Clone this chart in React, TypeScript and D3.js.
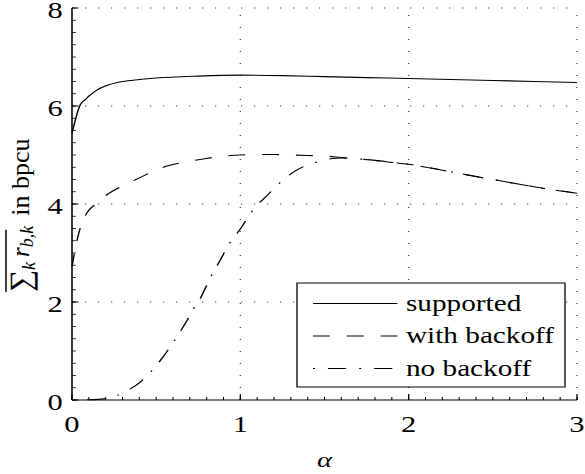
import { useEffect, useRef } from 'react';
import * as d3 from 'd3';

// values
const supportedAlpha = [0, 0.05, 0.075, 0.1, 0.15, 0.2, 0.3, 0.4, 0.5, 0.75, 1, 1.25, 1.5, 1.75, 2, 2.5, 3];
const supportedRate = [5.44, 6.03, 6.12, 6.2, 6.33, 6.41, 6.5, 6.54, 6.57, 6.61, 6.63, 6.62, 6.6, 6.58, 6.56, 6.52, 6.48];

const withBackoffAlpha = [0, 0.02, 0.04, 0.07, 0.1, 0.14, 0.2, 0.3, 0.38, 0.48, 0.57, 0.68, 0.78, 0.88, 1.0, 1.1, 1.2, 1.3, 1.4, 1.5, 1.6, 1.7, 1.8, 1.9, 2.0, 2.2, 2.4, 2.6, 2.8, 3.0];
const withBackoffRate = [2.72, 3.1, 3.4, 3.7, 3.87, 4.0, 4.17, 4.37, 4.5, 4.66, 4.78, 4.86, 4.92, 4.97, 5.0, 5.01, 5.01, 5.0, 4.99, 4.98, 4.95, 4.92, 4.89, 4.85, 4.81, 4.69, 4.56, 4.44, 4.32, 4.22];

const noBackoffAlpha = [0, 0.1, 0.2, 0.25, 0.32, 0.4, 0.45, 0.5, 0.56, 0.6, 0.64, 0.68, 0.72, 0.75, 0.83, 0.87, 0.95, 1.0, 1.04, 1.09, 1.14, 1.21, 1.26, 1.32, 1.4, 1.47, 1.55, 1.6, 1.7, 1.8, 1.9, 2.0, 2.2, 2.4, 2.6, 2.8, 3.0];
const noBackoffRate = [0, 0.005, 0.03, 0.07, 0.18, 0.35, 0.51, 0.7, 0.97, 1.17, 1.38, 1.6, 1.85, 2.0, 2.55, 2.79, 3.27, 3.49, 3.7, 3.95, 4.11, 4.35, 4.51, 4.66, 4.8, 4.87, 4.93, 4.94, 4.92, 4.89, 4.85, 4.81, 4.69, 4.56, 4.44, 4.32, 4.22];

const xTicks = [0, 1, 2, 3];
const yTicks = [0, 2, 4, 6, 8];
const legendLabels = ['supported', 'with backoff', 'no backoff'];

const WIDTH = 585;
const HEIGHT = 474;
const SX = 1.3; // the whole figure is stretched horizontally
const FONT = 'Liberation Serif, Times New Roman, serif';

const styles = [
  { dash: null, offset: 0 },
  { dash: '13,13', offset: 0 },
  { dash: '14,10,1.5,10', offset: 24 },
];

export default function App() {
  const svgRef = useRef<SVGSVGElement>(null);

  useEffect(() => {
    const svg = d3.select(svgRef.current);
    svg.selectAll('*').remove();

    const g = svg.append('g').attr('transform', `scale(${SX},1)`);

    const x = d3.scaleLinear().domain([0, 3]).range([72 / SX, 577 / SX]);
    const y = d3.scaleLinear().domain([0, 8]).range([400, 8]);

    // dotted grid
    xTicks.slice(1).forEach(t => {
      g.append('line')
        .attr('x1', x(t)).attr('x2', x(t))
        .attr('y1', y(0)).attr('y2', y(8))
        .attr('stroke', '#444').attr('stroke-width', 1)
        .attr('stroke-dasharray', '1,11');
    });
    yTicks.slice(1).forEach(t => {
      g.append('line')
        .attr('x1', x(0)).attr('x2', x(3))
        .attr('y1', y(t)).attr('y2', y(t))
        .attr('stroke', '#444').attr('stroke-width', 1)
        .attr('stroke-dasharray', '1,9');
    });

    // minor ticks
    d3.range(0, 3.0001, 0.1).forEach(t => {
      g.append('line')
        .attr('x1', x(t)).attr('x2', x(t))
        .attr('y1', y(0)).attr('y2', y(0) - 3)
        .attr('stroke', '#000').attr('stroke-width', 0.8);
    });
    d3.range(0, 8.0001, 0.25).forEach(t => {
      g.append('line')
        .attr('x1', x(0)).attr('x2', x(0) + 3)
        .attr('y1', y(t)).attr('y2', y(t))
        .attr('stroke', '#000').attr('stroke-width', 0.8);
    });

    // major ticks
    xTicks.forEach(t => {
      g.append('line')
        .attr('x1', x(t)).attr('x2', x(t))
        .attr('y1', y(0)).attr('y2', y(0) - 6)
        .attr('stroke', '#000').attr('stroke-width', 1);
    });
    yTicks.forEach(t => {
      g.append('line')
        .attr('x1', x(0)).attr('x2', x(0) + 5)
        .attr('y1', y(t)).attr('y2', y(t))
        .attr('stroke', '#000').attr('stroke-width', 1);
    });

    // curves
    const line = d3.line<[number, number]>()
      .x(d => x(d[0]))
      .y(d => y(d[1]))
      .curve(d3.curveMonotoneX);

    const series = [
      d3.zip(supportedAlpha, supportedRate),
      d3.zip(withBackoffAlpha, withBackoffRate),
      d3.zip(noBackoffAlpha, noBackoffRate),
    ];

    series.forEach((s, i) => {
      g.append('path')
        .attr('d', line(s as [number, number][]))
        .attr('fill', 'none')
        .attr('stroke', '#000')
        .attr('stroke-width', 1.1)
        .attr('stroke-dasharray', styles[i].dash)
        .attr('stroke-dashoffset', styles[i].offset);
    });

    // axes
    g.append('line')
      .attr('x1', x(0)).attr('x2', x(0))
      .attr('y1', y(0)).attr('y2', y(8))
      .attr('stroke', '#000').attr('stroke-width', 1.2);
    g.append('line')
      .attr('x1', x(0)).attr('x2', x(3))
      .attr('y1', y(0)).attr('y2', y(0))
      .attr('stroke', '#000').attr('stroke-width', 1.2);

    // tick labels
    g.selectAll('.xlab')
      .data(xTicks)
      .enter()
      .append('text')
      .attr('x', d => x(d))
      .attr('y', 432)
      .attr('text-anchor', 'middle')
      .style('font-family', FONT)
      .style('font-size', '23.5px')
      .text(d => d);

    g.selectAll('.ylab')
      .data(yTicks)
      .enter()
      .append('text')
      .attr('x', x(0) - 7)
      .attr('y', d => y(d) + 10)
      .attr('text-anchor', 'end')
      .style('font-family', FONT)
      .style('font-size', '23.5px')
      .text(d => d);

    // x label
    g.append('text')
      .attr('x', x(1.5))
      .attr('y', 467)
      .attr('text-anchor', 'middle')
      .style('font-family', FONT)
      .style('font-style', 'italic')
      .style('font-size', '22px')
      .text('α');

    // y label (not stretched)
    const yl = svg.append('g')
      .attr('transform', 'translate(29,292) rotate(-90)');
    const part1 = yl.append('text')
      .attr('x', 0).attr('y', 0)
      .style('font-family', FONT)
      .style('font-size', '25px');
    part1.append('tspan').style('font-size', '31px').attr('dy', 2).text('∑');
    part1.append('tspan').style('font-style', 'italic').style('font-size', '18px').attr('dy', 4).text('k');
    part1.append('tspan').style('font-style', 'italic').attr('dx', 5).attr('dy', -6).text('r');
    part1.append('tspan').style('font-style', 'italic').style('font-size', '18px').attr('dy', 4).text('b,k');
    const w = (part1.node() as SVGTextElement).getComputedTextLength();
    yl.append('line')
      .attr('x1', 0).attr('x2', w + 1)
      .attr('y1', -23).attr('y2', -23)
      .attr('stroke', '#000').attr('stroke-width', 1.5);
    yl.append('text')
      .attr('x', w + 15).attr('y', 0)
      .style('font-family', FONT)
      .style('font-size', '26px')
      .text('in bpcu');

    // legend
    const lx0 = 297 / SX;
    const lx1 = 565 / SX;
    g.append('rect')
      .attr('x', lx0).attr('y', 283)
      .attr('width', lx1 - lx0).attr('height', 104)
      .attr('fill', '#fff').attr('stroke', '#000').attr('stroke-width', 1);

    legendLabels.forEach((label, i) => {
      const ry = 303.5 + i * 32.5;
      g.append('line')
        .attr('x1', 313 / SX).attr('x2', 313 / SX + 65)
        .attr('y1', ry).attr('y2', ry)
        .attr('stroke', '#000').attr('stroke-width', 1.1)
        .attr('stroke-dasharray', styles[i].dash)
        .attr('stroke-dashoffset', styles[i].offset);
      g.append('text')
        .attr('x', 406 / SX)
        .attr('y', ry + 7.5)
        .style('font-family', FONT)
        .style('font-size', '22.5px')
        .text(label);
    });
  }, []);

  return (
    <svg
      ref={svgRef}
      width={WIDTH}
      height={HEIGHT}
      style={{ position: 'absolute', left: 0, top: 0, background: '#fff' }}
    />
  );
}
